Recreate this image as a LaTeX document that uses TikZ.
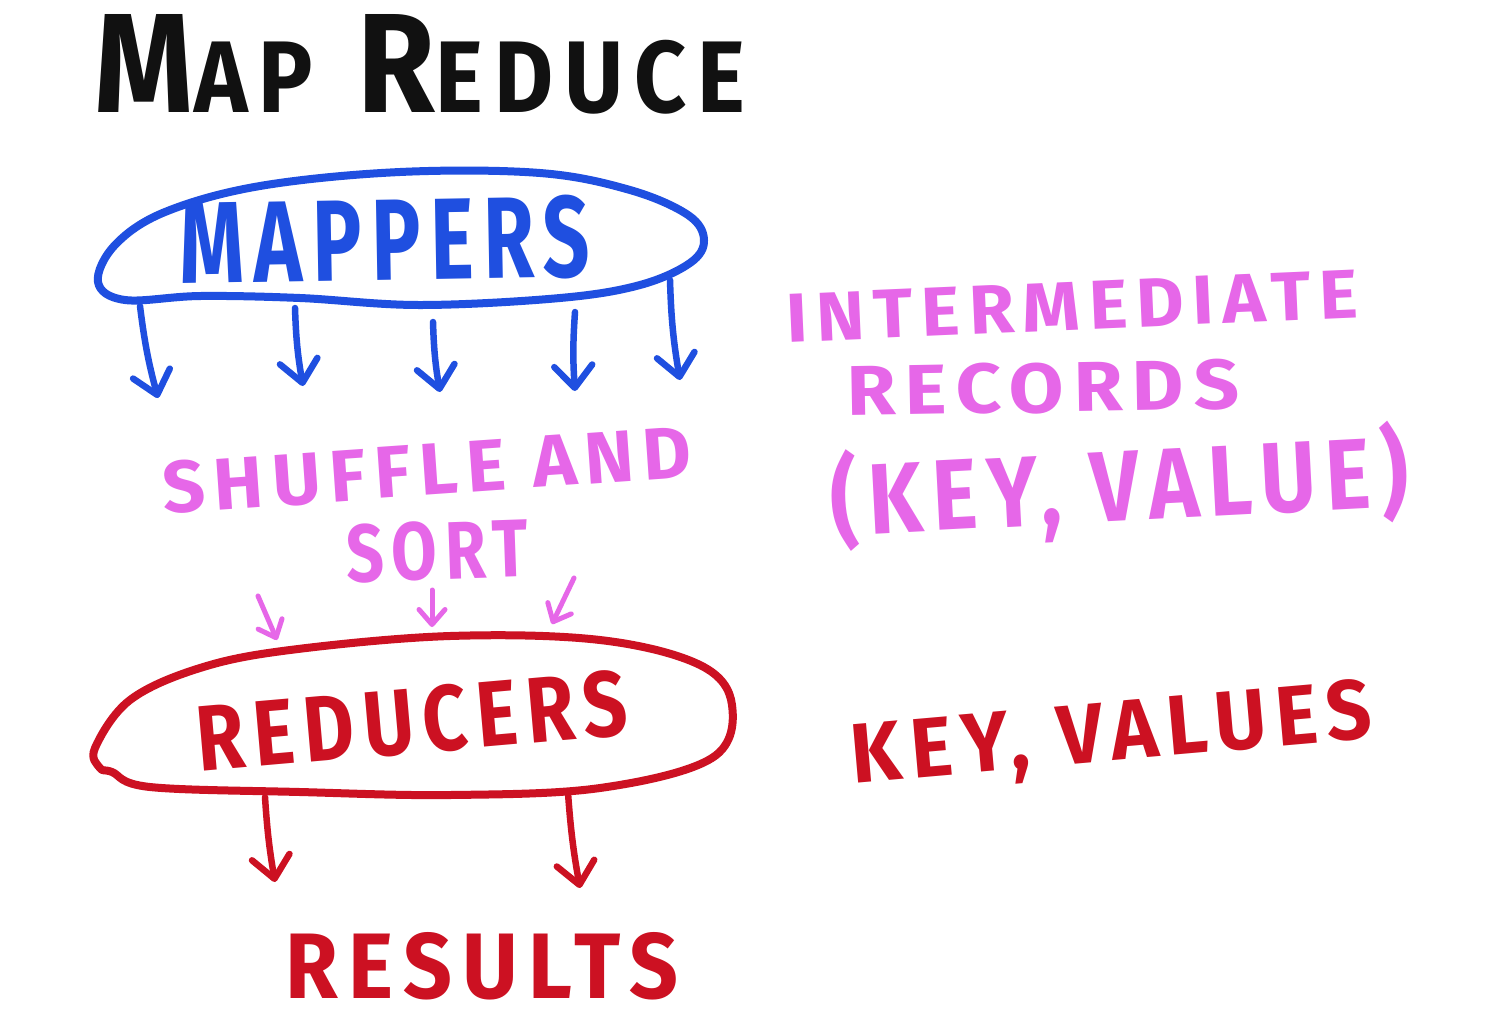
\documentclass[tikz,border=0pt]{standalone}
\usepackage{fontspec}
\usepackage{graphicx}
\setmainfont{Fira Sans}
\newfontfamily\hand[LetterSpace=12]{Fira Sans}
\usetikzlibrary{arrows.meta}
\definecolor{mblue}{HTML}{1F4FE0}
\definecolor{mpink}{HTML}{E667E8}
\definecolor{mred}{HTML}{CC1122}
\definecolor{mink}{HTML}{111111}
\newcommand{\fitbox}[3]{\resizebox{#1pt}{#2pt}{\hand\bfseries #3}}
\begin{document}
\begin{tikzpicture}[x=1pt,y=-1pt,
  lbl/.style={inner sep=0pt, outer sep=0pt},
  blob/.style={line width=8pt, line join=round},
  harrow/.style={line width=6.5pt, line cap=round,
    -{Straight Barb[length=22pt,width=38pt,line cap=round,line join=round]}},
  sarrow/.style={line width=5pt, line cap=round,
    -{Straight Barb[length=15pt,width=26pt,line cap=round,line join=round]}}]
\useasboundingbox[fill=white] (0,0) rectangle (1498,1026);

% title
\node[lbl, text=mink] (title) at (420,64)
  {\fitbox{650}{98}{M\scalebox{0.72}{AP} R\scalebox{0.72}{EDUCE}}};

% mappers blob
\draw[blob, mblue] plot[smooth cycle, tension=0.6] coordinates {
  (98,282) (115,245) (165,212) (260,186) (400,172) (540,173) (630,190)
  (688,215) (704,240) (690,263) (640,285) (560,298) (420,305) (300,298)
  (200,296) (125,300)};
\node[lbl, text=mblue, rotate=1] (mappers) at (385,240) {\fitbox{410}{82}{MAPPERS}};

% mapper arrows
\coordinate (m1s) at (140,306); \coordinate (m1e) at (158,398);
\coordinate (m2s) at (295,308); \coordinate (m2e) at (303,386);
\coordinate (m3s) at (433,322); \coordinate (m3e) at (440,392);
\coordinate (m4s) at (575,312); \coordinate (m4e) at (575,391);
\coordinate (m5s) at (670,280); \coordinate (m5e) at (680,380);
\foreach \i in {1,...,5} \draw[harrow, mblue] (m\i s) to[bend right=4] (m\i e);

% intermediate records
\node[lbl, text=mpink, rotate=2.5] (inter) at (1072,306) {\fitbox{572}{48}{INTERMEDIATE}};
\node[lbl, text=mpink, rotate=1] (records) at (1043,388) {\fitbox{392}{50}{RECORDS}};
\node[lbl, text=mpink, rotate=3] (kv) at (1120,487) {\fitbox{578}{86}{(KEY, VALUE)}};

% shuffle and sort
\node[lbl, text=mpink, rotate=4] (shuffle) at (427,470) {\fitbox{530}{52}{SHUFFLE AND}};
\node[lbl, text=mpink, rotate=2] (sort) at (437,551) {\fitbox{182}{58}{SORT}};

\coordinate (p1s) at (258,596); \coordinate (p1e) at (277,640);
\coordinate (p2s) at (432,590); \coordinate (p2e) at (432,627);
\coordinate (p3s) at (574,578); \coordinate (p3e) at (552,624);
\foreach \i in {1,2,3} \draw[sarrow, mpink] (p\i s) -- (p\i e);

% reducers blob
\draw[blob, mred] plot[smooth cycle, tension=0.6] coordinates {
  (95,748) (130,700) (200,668) (290,650) (450,636) (600,640) (700,665)
  (732,705) (712,758) (600,788) (450,795) (300,792) (150,787) (112,772)
  (100,768)};
\node[lbl, text=mred, rotate=5] (reducers) at (412,721) {\fitbox{432}{66}{REDUCERS}};

% key, values
\node[lbl, text=mred, rotate=5] (kvs) at (1112,738) {\fitbox{522}{60}{KEY, VALUES}};

% reducer arrows
\coordinate (r1s) at (265,797); \coordinate (r1e) at (275,882);
\coordinate (r2s) at (568,793); \coordinate (r2e) at (580,888);
\draw[harrow, mred] (r1s) to[bend right=3] (r1e);
\draw[harrow, mred] (r2s) to[bend right=3] (r2e);

% results
\node[lbl, text=mred] (results) at (482,966) {\fitbox{392}{66}{RESULTS}};
\end{tikzpicture}
\end{document}
